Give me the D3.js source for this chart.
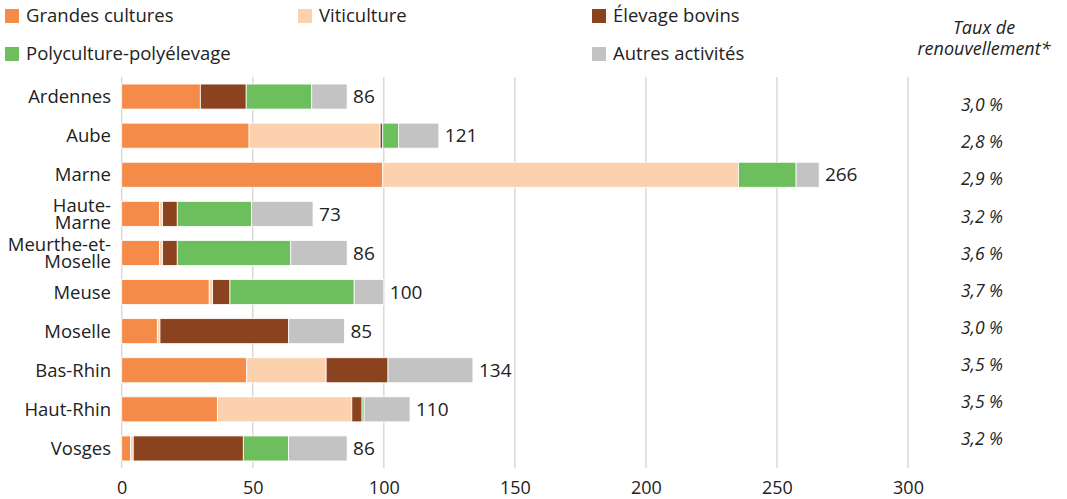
<!DOCTYPE html>
<html>
<head>
<meta charset="utf-8">
<script src="https://cdn.jsdelivr.net/npm/d3@7"></script>
<style>
  body { margin: 0; background: #fff; }
  svg { font-family: "Open Sans", sans-serif; }
</style>
</head>
<body>
<svg id="chart" width="1067" height="499"></svg>
<script>
// departements and values
var regions = ["Ardennes", "Aube", "Marne", "Haute-Marne", "Meurthe-et-Moselle",
               "Meuse", "Moselle", "Bas-Rhin", "Haut-Rhin", "Vosges"];
var grandesCultures = [30, 48.6, 99.6, 14.4, 14.4, 33.4, 13.6, 47.7, 36.5, 3.4];
var viticulture     = [0, 50, 135.7, 1.2, 1.2, 1.3, 1, 30.3, 51.3, 1];
var elevageBovins   = [17.5, 1, 0, 5.6, 5.6, 6.6, 49.1, 23.6, 3.9, 42];
var polyculture     = [25, 6, 22, 28.3, 43.3, 47.4, 0, 0, 0.8, 17.2];
var autres          = [13.5, 15.4, 8.8, 23.5, 21.5, 11.3, 21.3, 32.4, 17.5, 22.4];
var totals = [86, 121, 266, 73, 86, 100, 85, 134, 110, 86];
var taux = ["3,0 %", "2,8 %", "2,9 %", "3,2 %", "3,6 %", "3,7 %", "3,0 %", "3,5 %", "3,5 %", "3,2 %"];
var xTicks = [0, 50, 100, 150, 200, 250, 300];

// multi-line category labels
var labelLines = {
    "Haute-Marne": ["Haute-", "Marne"],
    "Meurthe-et-Moselle": ["Meurthe-et-", "Moselle"]
};

var keys = ["gc", "viti", "bov", "poly", "autres"];
var keyNames = {
    gc: "Grandes cultures", viti: "Viticulture", bov: "Élevage bovins",
    poly: "Polyculture-polyélevage", autres: "Autres activités"
};
var colors = {gc: "#f58b48", viti: "#fbd1ae", bov: "#8a431e", poly: "#6dbf5e", autres: "#c2c3c2"};

var table = regions.map(function(r, i) {
    return {region: r, gc: grandesCultures[i], viti: viticulture[i], bov: elevageBovins[i],
            poly: polyculture[i], autres: autres[i], total: totals[i], taux: taux[i]};
});

var svg = d3.select("#chart");
var textColor = "#222";

var x = d3.scaleLinear().domain([0, 300]).range([121.7, 908]);
var y = d3.scaleBand().domain(regions).range([77, 468])
    .paddingInner(0.36).paddingOuter(0.18);
var yTaux = d3.scaleBand().domain(regions).range([86.4, 457.9]);

// grid lines
svg.append("g").selectAll("line")
    .data(xTicks)
    .join("line")
    .attr("x1", function(d) { return x(d); })
    .attr("x2", function(d) { return x(d); })
    .attr("y1", 77)
    .attr("y2", 468)
    .attr("stroke", "#d9d9d9")
    .attr("stroke-width", 1.5);

// x axis labels
var xAxis = d3.axisBottom(x).tickValues(xTicks).tickSize(0).tickPadding(13);
svg.append("g")
    .attr("transform", "translate(0,468)")
    .call(xAxis)
    .call(function(g) { g.select(".domain").remove(); })
    .selectAll("text")
    .attr("font-size", 18)
    .attr("font-family", "Open Sans, sans-serif")
    .attr("fill", textColor);

// stacked bars
var series = d3.stack().keys(keys)(table);
svg.append("g").selectAll("g")
    .data(series)
    .join("g")
    .attr("fill", function(s) { return colors[s.key]; })
    .selectAll("rect")
    .data(function(s) { return s; })
    .join("rect")
    .attr("x", function(d) { return x(d[0]); })
    .attr("y", function(d) { return y(d.data.region); })
    .attr("width", function(d) { return Math.max(0, x(d[1]) - x(d[0])); })
    .attr("height", y.bandwidth())
    .attr("stroke", function(d) { return (d[1] - d[0]) > 0 ? "#fff" : "none"; })
    .attr("stroke-width", 0.8);

// totals
svg.append("g").selectAll("text")
    .data(table)
    .join("text")
    .attr("x", function(d) { return x(d.total) + 6; })
    .attr("y", function(d) { return y(d.region) + y.bandwidth() / 2; })
    .attr("dy", "0.35em")
    .attr("font-size", 19)
    .attr("fill", textColor)
    .text(function(d) { return d.total; });

// category labels
var cat = svg.append("g").selectAll("text")
    .data(regions)
    .join("text")
    .attr("x", 111)
    .attr("y", function(d) { return y(d) + y.bandwidth() / 2; })
    .attr("text-anchor", "end")
    .attr("font-size", 18.5)
    .attr("fill", textColor);
cat.each(function(d) {
    var lines = labelLines[d] || [d];
    var t = d3.select(this);
    lines.forEach(function(l, i) {
        t.append("tspan")
            .attr("x", 111)
            .attr("dy", i === 0 ? ((0.35 - (lines.length - 1) * 0.45) + "em") : "0.9em")
            .text(l);
    });
});

// taux column
svg.append("text")
    .attr("x", 984).attr("y", 34)
    .attr("text-anchor", "middle")
    .attr("font-size", 18).attr("font-style", "italic")
    .attr("fill", textColor)
    .text("Taux de");
svg.append("text")
    .attr("x", 984).attr("y", 55)
    .attr("text-anchor", "middle")
    .attr("font-size", 18).attr("font-style", "italic")
    .attr("fill", textColor)
    .text("renouvellement*");

svg.append("g").selectAll("text")
    .data(table)
    .join("text")
    .attr("x", 982)
    .attr("y", function(d) { return yTaux(d.region) + yTaux.bandwidth() / 2; })
    .attr("dy", "0.35em")
    .attr("text-anchor", "middle")
    .attr("font-size", 17.5)
    .attr("font-style", "italic")
    .attr("fill", textColor)
    .text(function(d) { return d.taux; });

// legend
var legendPos = [
    {key: "gc", x: 5, y: 9}, {key: "viti", x: 298, y: 9}, {key: "bov", x: 592, y: 9},
    {key: "poly", x: 5, y: 47}, {key: "autres", x: 592, y: 47}
];
var lg = svg.append("g").selectAll("g")
    .data(legendPos)
    .join("g")
    .attr("transform", function(d) { return "translate(" + d.x + "," + d.y + ")"; });
lg.append("rect")
    .attr("width", 14).attr("height", 14)
    .attr("fill", function(d) { return colors[d.key]; });
lg.append("text")
    .attr("x", 21).attr("y", 7)
    .attr("dy", "0.35em")
    .attr("font-size", 18.5)
    .attr("fill", textColor)
    .text(function(d) { return keyNames[d.key]; });
</script>
</body>
</html>
